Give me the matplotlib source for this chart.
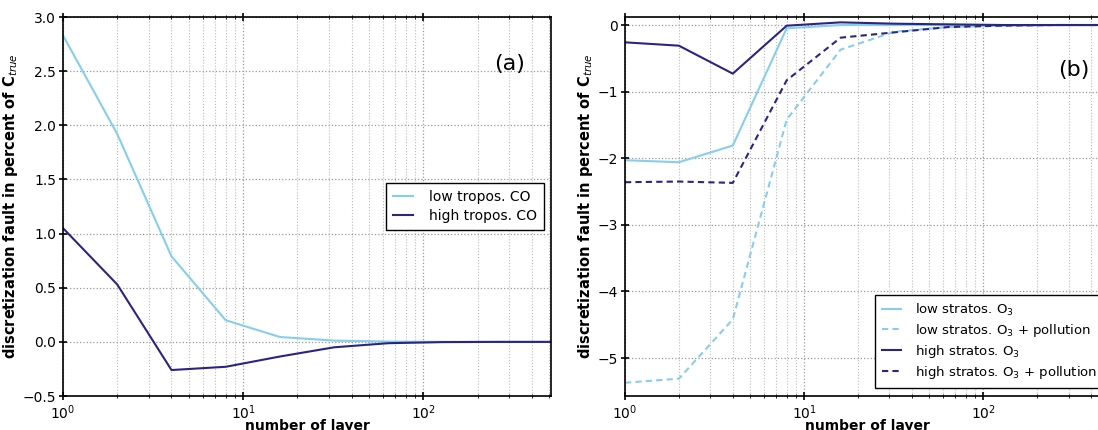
import matplotlib
matplotlib.use("Agg")
import matplotlib.pyplot as plt

# number of layers
layers = [1, 2, 4, 8, 16, 32, 64, 128, 256, 512]

# panel (a): tropospheric CO
low_tropos_co = [2.83, 1.92, 0.79, 0.20, 0.045, 0.012, 0.003, 0.0, 0.0, 0.0]
high_tropos_co = [1.05, 0.53, -0.26, -0.23, -0.135, -0.05, -0.012, -0.002, 0.0, 0.0]

# panel (b): stratospheric O3
low_stratos_o3 = [-2.03, -2.06, -1.81, -0.05, 0.0, 0.0, 0.0, 0.0, 0.0, 0.0]
low_stratos_o3_poll = [-5.37, -5.31, -4.42, -1.42, -0.37, -0.10, -0.03, -0.01, 0.0, 0.0]
high_stratos_o3 = [-0.26, -0.31, -0.73, -0.01, 0.04, 0.02, 0.01, 0.0, 0.0, 0.0]
high_stratos_o3_poll = [-2.36, -2.35, -2.37, -0.83, -0.19, -0.11, -0.03, -0.01, 0.0, 0.0]

light = '#87ceeb'
dark = '#2b2580'
ylab = r'discretization fault in percent of C$_{true}$'

fig = plt.figure(figsize=(10.98, 4.30), dpi=100)
ax1 = fig.add_axes([0.0574, 0.079, 0.4445, 0.8814])
ax2 = fig.add_axes([0.5692, 0.079, 0.4418, 0.8814])


def style(ax):
    ax.set_xscale('log')
    ax.set_xlim(1, 512)
    ax.grid(True, which='major', linestyle=':', color='#999999', linewidth=0.9)
    ax.grid(True, which='minor', axis='x', linestyle=':', color='#bbbbbb', linewidth=0.8)
    ax.tick_params(which='both', direction='inout', top=True, labelsize=10, pad=2)
    ax.tick_params(which='major', length=6, width=1.2)
    ax.tick_params(which='minor', length=3)
    for s in ax.spines.values():
        s.set_linewidth(1.2)
    ax.set_xlabel('number of layer', fontsize=10, fontweight='bold', labelpad=-1.5)
    ax.set_ylabel(ylab, fontsize=10.5, fontweight='bold', labelpad=2)


ax1.plot(layers, low_tropos_co, color=light, lw=1.5, label='low tropos. CO')
ax1.plot(layers, high_tropos_co, color=dark, lw=1.5, label='high tropos. CO')
style(ax1)
ax1.set_ylim(-0.5, 3.0)
ax1.text(0.915, 0.875, '(a)', transform=ax1.transAxes, fontsize=16, ha='center', va='center')
leg = ax1.legend(loc='center right', bbox_to_anchor=(0.999, 0.5), fontsize=10,
                 fancybox=False, framealpha=1, borderpad=0.5, labelspacing=0.4,
                 handlelength=1.5, handletextpad=1.1)
leg.get_frame().set_edgecolor('black')

ax2.plot(layers, low_stratos_o3, color=light, lw=1.5, label=r'low stratos. O$_3$')
ax2.plot(layers, low_stratos_o3_poll, color=light, lw=1.5, dashes=(3, 2),
         label=r'low stratos. O$_3$ + pollution')
ax2.plot(layers, high_stratos_o3, color=dark, lw=1.5, label=r'high stratos. O$_3$')
ax2.plot(layers, high_stratos_o3_poll, color=dark, lw=1.5, dashes=(3, 2),
         label=r'high stratos. O$_3$ + pollution')
style(ax2)
ax2.set_ylim(-5.57, 0.12)
ax2.set_yticks([0, -1, -2, -3, -4, -5])
ax2.text(0.925, 0.86, '(b)', transform=ax2.transAxes, fontsize=16, ha='center', va='center')
leg2 = ax2.legend(loc='lower right', bbox_to_anchor=(1.0, 0.005), fontsize=9.5,
                  fancybox=False, framealpha=1, borderpad=0.5, labelspacing=0.3,
                  handlelength=1.5, handletextpad=1.0)
leg2.get_frame().set_edgecolor('black')

fig.savefig('out.png', dpi=100)
